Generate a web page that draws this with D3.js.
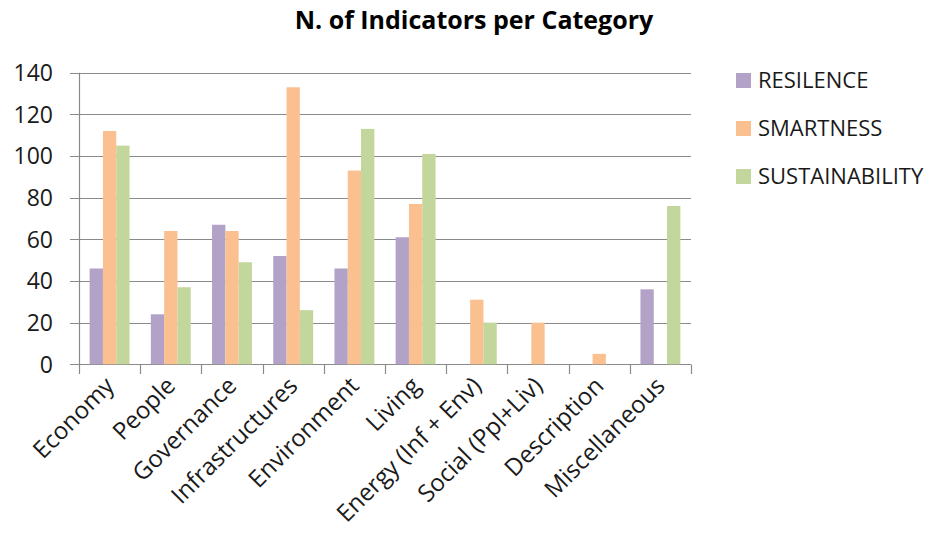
<!DOCTYPE html>
<html>
<head>
<meta charset="utf-8">
<script src="https://cdn.jsdelivr.net/npm/d3@7"></script>
<style>
  html, body { margin: 0; padding: 0; background: #fff; }
  svg { display: block; font-family: "Open Sans", "Liberation Sans", sans-serif; }
</style>
</head>
<body>
<svg id="chart" width="934" height="533"></svg>
<script>
// Indicator counts per category, one array per series
const categories = ["Economy", "People", "Governance", "Infrastructures", "Environment",
  "Living", "Energy (Inf + Env)", "Social (Ppl+Liv)", "Description", "Miscellaneous"];
const seriesNames = ["RESILENCE", "SMARTNESS", "SUSTAINABILITY"];
const resilience     = [46, 24, 67, 52, 46, 61, 0, 0, 0, 36];
const smartness      = [112, 64, 64, 133, 93, 77, 31, 20, 5, 0];
const sustainability = [105, 37, 49, 26, 113, 101, 20, 0, 0, 76];
const yTicks = [0, 20, 40, 60, 80, 100, 120, 140];
const colors = ["#B3A2C7", "#FAC090", "#C3D69B"];

const seriesValues = [resilience, smartness, sustainability];
const rows = categories.map((c, i) => ({ category: c, values: seriesValues.map(s => s[i]) }));

const svg = d3.select("#chart");
const plot = { left: 79, right: 691, top: 72.7, bottom: 364.3 };

const x = d3.scaleBand().domain(categories).range([plot.left, plot.right]).paddingInner(0).paddingOuter(0);
const x1 = d3.scaleBand().domain(d3.range(seriesNames.length)).range([0, x.bandwidth()])
  .paddingInner(0).paddingOuter(0.8);
const y = d3.scaleLinear().domain([0, 140]).range([plot.bottom, plot.top]);

const gridColor = "#8a8a8a";
const textColor = "#1a1a1a";

// horizontal gridlines with short tick marks left of the axis
svg.append("g")
  .selectAll("line")
  .data(yTicks)
  .join("line")
  .attr("x1", plot.left - 9)
  .attr("x2", plot.right)
  .attr("y1", d => Math.round(y(d)) + 0.5)
  .attr("y2", d => Math.round(y(d)) + 0.5)
  .attr("stroke", gridColor)
  .attr("stroke-width", 1.2);

// y-axis tick labels
svg.append("g")
  .selectAll("text")
  .data(yTicks)
  .join("text")
  .attr("x", 53)
  .attr("y", d => y(d))
  .attr("dy", "0.36em")
  .attr("text-anchor", "end")
  .attr("font-size", 23)
  .attr("fill", textColor)
  .text(d => d);

// bars
const groups = svg.append("g")
  .selectAll("g")
  .data(rows)
  .join("g")
  .attr("transform", d => `translate(${x(d.category)},0)`);

groups.selectAll("rect")
  .data(d => d.values.map((v, i) => ({ v, i })))
  .join("rect")
  .attr("x", d => x1(d.i))
  .attr("width", x1.bandwidth())
  .attr("y", d => y(d.v))
  .attr("height", d => y(0) - y(d.v))
  .attr("fill", d => colors[d.i]);

// y axis line
svg.append("line")
  .attr("x1", plot.left + 0.5).attr("x2", plot.left + 0.5)
  .attr("y1", plot.top).attr("y2", Math.round(y(0)) + 0.5)
  .attr("stroke", gridColor)
  .attr("stroke-width", 1.2);

// x axis with category boundary tick marks
const boundaries = categories.map(c => x(c)).concat([plot.right]);
svg.append("g")
  .selectAll("line")
  .data(boundaries)
  .join("line")
  .attr("x1", d => Math.round(d) + 0.5)
  .attr("x2", d => Math.round(d) + 0.5)
  .attr("y1", Math.round(y(0)) + 0.5)
  .attr("y2", Math.round(y(0)) + 10)
  .attr("stroke", gridColor)
  .attr("stroke-width", 1.2);

// rotated category labels
svg.append("g")
  .selectAll("text")
  .data(categories)
  .join("text")
  .attr("transform", d => `translate(${x(d) + x.bandwidth() / 2 + 6},${plot.bottom + 23}) rotate(-45)`)
  .attr("text-anchor", "end")
  .attr("font-size", 24)
  .attr("fill", textColor)
  .text(d => d);

// title
svg.append("text")
  .attr("x", 474)
  .attr("y", 29)
  .attr("text-anchor", "middle")
  .attr("font-size", 25)
  .attr("font-weight", "bold")
  .attr("fill", "#000")
  .text("N. of Indicators per Category");

// legend
const legend = svg.append("g")
  .selectAll("g")
  .data(seriesNames)
  .join("g")
  .attr("transform", (d, i) => `translate(736,${73 + i * 48})`);

legend.append("rect")
  .attr("width", 15).attr("height", 15)
  .attr("fill", (d, i) => colors[i]);

legend.append("text")
  .attr("x", 22)
  .attr("y", 7.5)
  .attr("dy", "0.36em")
  .attr("font-size", 22)
  .attr("fill", textColor)
  .text(d => d);
</script>
</body>
</html>
